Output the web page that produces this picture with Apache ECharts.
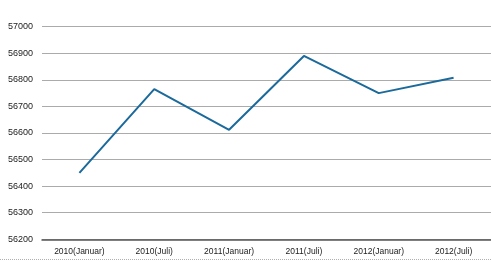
<!DOCTYPE html>
<html>
<head>
<meta charset="utf-8">
<script src="https://cdn.jsdelivr.net/npm/echarts@6/dist/echarts.min.js"></script>
<style>html,body{margin:0;padding:0;background:#fff;}#c{width:491px;height:262px;}</style>
</head>
<body>
<div id="c"></div>
<script>
const categories = ["2010(Januar)", "2010(Juli)", "2011(Januar)", "2011(Juli)", "2012(Januar)", "2012(Juli)"];
const values = [56450, 56765, 56612, 56890, 56750, 56808];
const yMin = 56200, yMax = 57000, yStep = 100;

const chart = echarts.init(document.getElementById('c'), null, {renderer: 'canvas'});
chart.setOption({
  animation: false,
  backgroundColor: '#ffffff',
  grid: {left: 42, right: 0, top: 26.7, bottom: 22.7, containLabel: false},
  xAxis: {
    type: 'category',
    data: categories,
    boundaryGap: true,
    axisLine: {lineStyle: {color: '#555555', width: 1.5}},
    axisTick: {show: false},
    axisLabel: {color: '#222', fontFamily: 'Liberation Sans, Arial', fontSize: 8.5, margin: 8}
  },
  yAxis: {
    type: 'value',
    min: yMin, max: yMax, interval: yStep,
    axisLine: {show: false},
    axisTick: {show: false},
    axisLabel: {color: '#222', fontFamily: 'Liberation Sans, Arial', fontSize: 9, margin: 9,
      formatter: v => String(v)},
    splitLine: {lineStyle: {color: '#ababab', width: 1}}
  },
  series: [{
    type: 'line',
    data: values,
    showSymbol: false,
    symbol: 'none',
    lineStyle: {color: '#1b6a9b', width: 2},
    itemStyle: {color: '#1b6a9b'}
  }],
  graphic: [{
    type: 'line',
    shape: {x1: 0, y1: 259.5, x2: 491, y2: 259.5},
    style: {stroke: '#b0b0b0', lineWidth: 1, lineDash: [1, 1]}
  }]
});
</script>
</body>
</html>
